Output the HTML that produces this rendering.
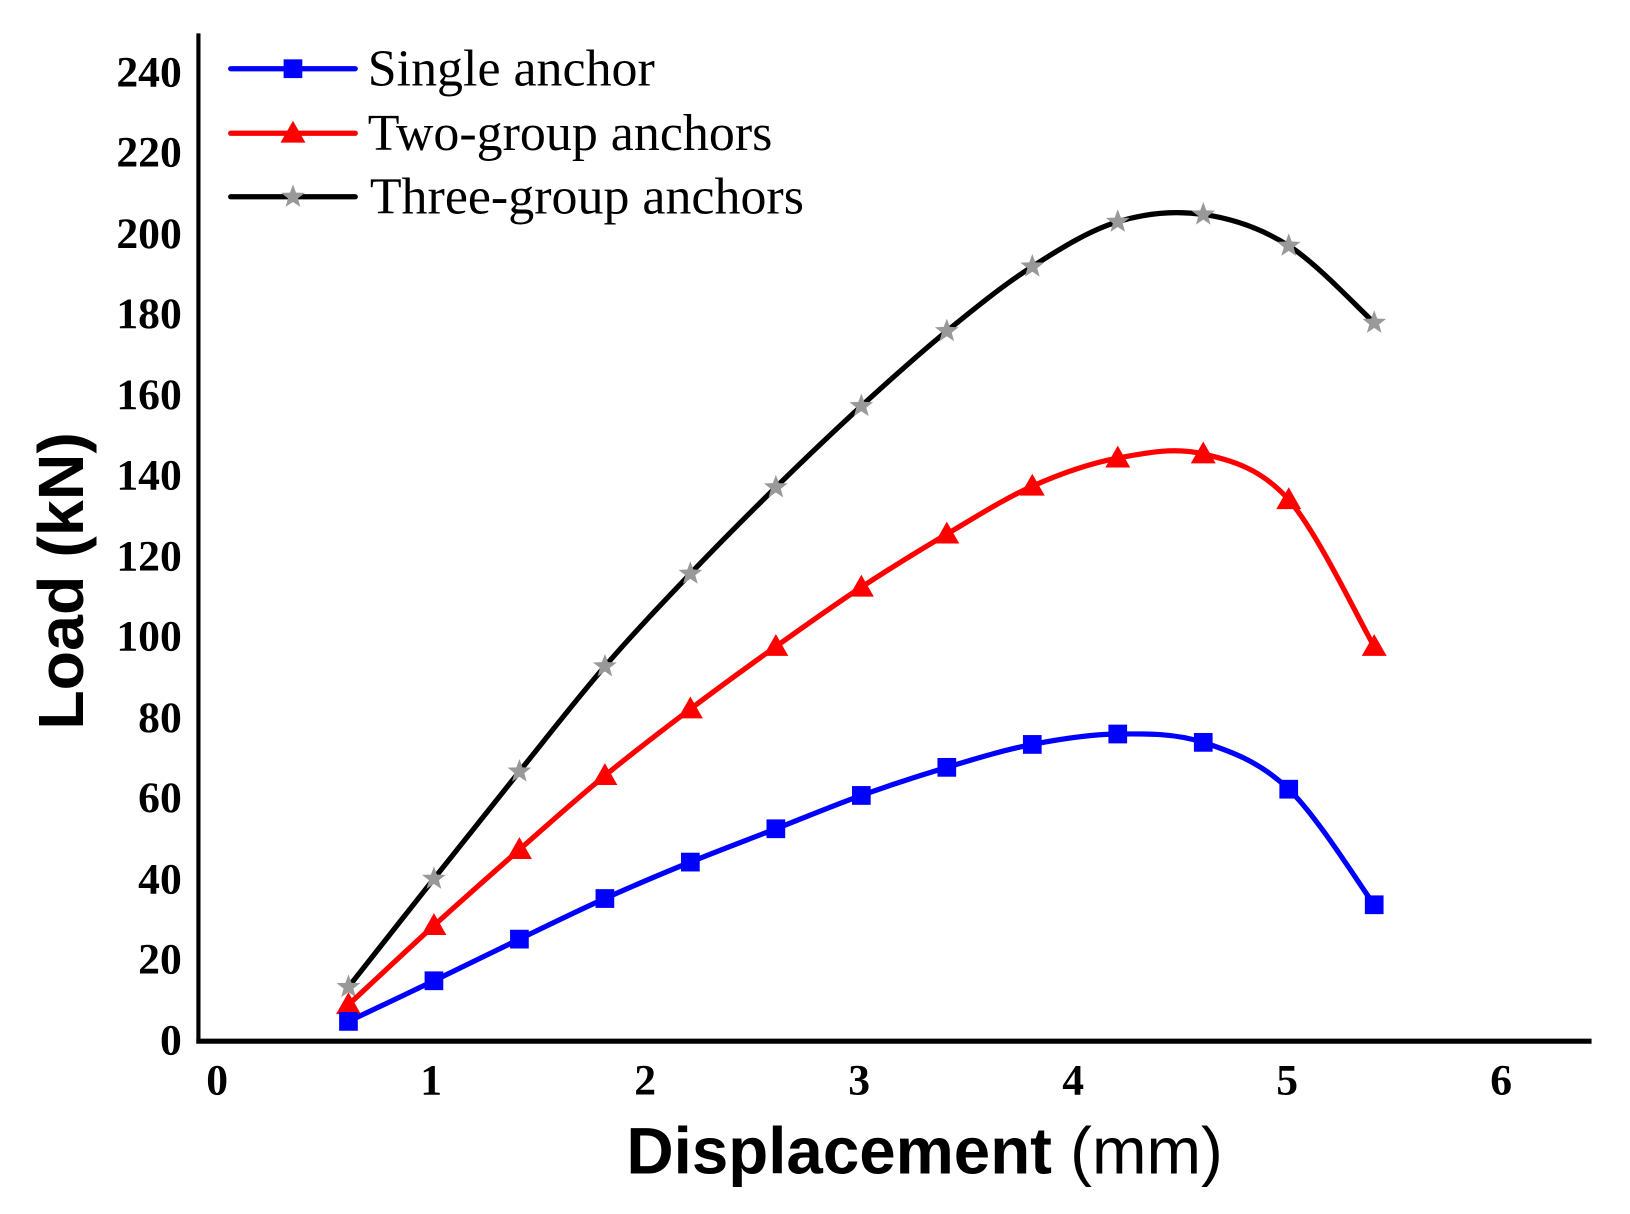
<!DOCTYPE html>
<html><head><meta charset="utf-8"><style>html,body{margin:0;padding:0;background:#fff}svg{display:block}</style></head>
<body>
<svg id="s" width="1630" height="1214" viewBox="0 0 1569 1166" preserveAspectRatio="none" xmlns="http://www.w3.org/2000/svg">
<rect width="1569" height="1166" fill="#fff"/>
<g id="series"></g>
<line x1="191" y1="32" x2="191" y2="1002" stroke="#000" stroke-width="4"/>
<line x1="189" y1="1000" x2="1532" y2="1000" stroke="#000" stroke-width="5"/>
<g font-family="Liberation Serif, serif" font-weight="bold" font-size="42" text-anchor="end">
<text x="175" y="1013">0</text><text x="175" y="935">20</text><text x="175" y="858">40</text>
<text x="175" y="780">60</text><text x="175" y="703">80</text><text x="175" y="625">100</text>
<text x="175" y="548">120</text><text x="175" y="470">140</text><text x="175" y="393">160</text>
<text x="175" y="315">180</text><text x="175" y="238">200</text><text x="175" y="160">220</text>
<text x="175" y="83">240</text>
</g>
<g font-family="Liberation Serif, serif" font-weight="bold" font-size="42" text-anchor="middle">
<text x="209" y="1051">0</text><text x="415" y="1051">1</text><text x="621" y="1051">2</text>
<text x="827" y="1051">3</text><text x="1033" y="1051">4</text><text x="1239" y="1051">5</text>
<text x="1445" y="1051">6</text>
</g>
<text x="890" y="1127" text-anchor="middle" font-family="Liberation Sans, sans-serif" font-size="63"><tspan font-weight="bold">Displacement</tspan> (mm)</text>
<text transform="translate(80,558) rotate(-90)" text-anchor="middle" font-family="Liberation Sans, sans-serif" font-size="62" font-weight="bold">Load (kN)</text>
<g font-family="Liberation Serif, serif" font-size="50">
<text x="354" y="82">Single anchor</text>
<text x="354" y="144">Two-group anchors</text>
<text x="356" y="205">Three-group anchors</text>
</g>
<g id="legend"></g>
</svg>
<script>
var xs=[0.6,1.0,1.4,1.8,2.2,2.6,3.0,3.4,3.8,4.2,4.6,5.0,5.4];
function X(v){return 212+205.7*v;}
var S=[981,942,902,863,828,796,764,737,715,705,713,758,869];
var T=[965,889,816,745,681,621,564,513,467,440,436,480,621];
var H=[948,844,741,640,551,468,390,318,256,213,206,236,310];
function path(ys){var p=xs.map(function(v,i){return [X(v),ys[i]];});
var d="M"+p[0][0]+","+p[0][1];
for(var i=0;i<p.length-1;i++){var p0=p[i-1]||p[i],p1=p[i],p2=p[i+1],p3=p[i+2]||p2;
var c1=[p1[0]+(p2[0]-p0[0])/6,p1[1]+(p2[1]-p0[1])/6],c2=[p2[0]-(p3[0]-p1[0])/6,p2[1]-(p3[1]-p1[1])/6];
d+=" C"+c1+" "+c2+" "+p2;}return d;}
var ns="http://www.w3.org/2000/svg",g=document.getElementById("series"),L=document.getElementById("legend");
function el(par,t,a){var e=document.createElementNS(ns,t);for(var k in a)e.setAttribute(k,a[k]);par.appendChild(e);return e;}
function sq(par,x,y,c){el(par,"rect",{x:x-9,y:y-9,width:18,height:18,fill:c});}
function tri(par,x,y,c){el(par,"polygon",{points:(x)+","+(y-12)+" "+(x-12)+","+(y+9)+" "+(x+12)+","+(y+9),fill:c});}
function star(par,x,y,c){var pts=[];for(var i=0;i<10;i++){var r=i%2?5:12,a=-Math.PI/2+i*Math.PI/5;pts.push((x+r*Math.cos(a)).toFixed(1)+","+(y+r*Math.sin(a)).toFixed(1));}el(par,"polygon",{points:pts.join(" "),fill:c});}
[[H,"#000",star,"#999"],[T,"#f00",tri,"#f00"],[S,"#00f",sq,"#00f"]].forEach(function(s){
el(g,"path",{d:path(s[0]),fill:"none",stroke:s[1],"stroke-width":5,"stroke-linejoin":"round"});
xs.forEach(function(v,i){s[2](g,X(v),s[0][i],s[3]);});});
[[66,"#00f",sq,"#00f"],[128,"#f00",tri,"#f00"],[189,"#000",star,"#999"]].forEach(function(s){
el(L,"line",{x1:222,y1:s[0],x2:342,y2:s[0],stroke:s[1],"stroke-width":5,"stroke-linecap":"round"});
s[2](L,282,s[0],s[3]);});
</script>
</body></html>
